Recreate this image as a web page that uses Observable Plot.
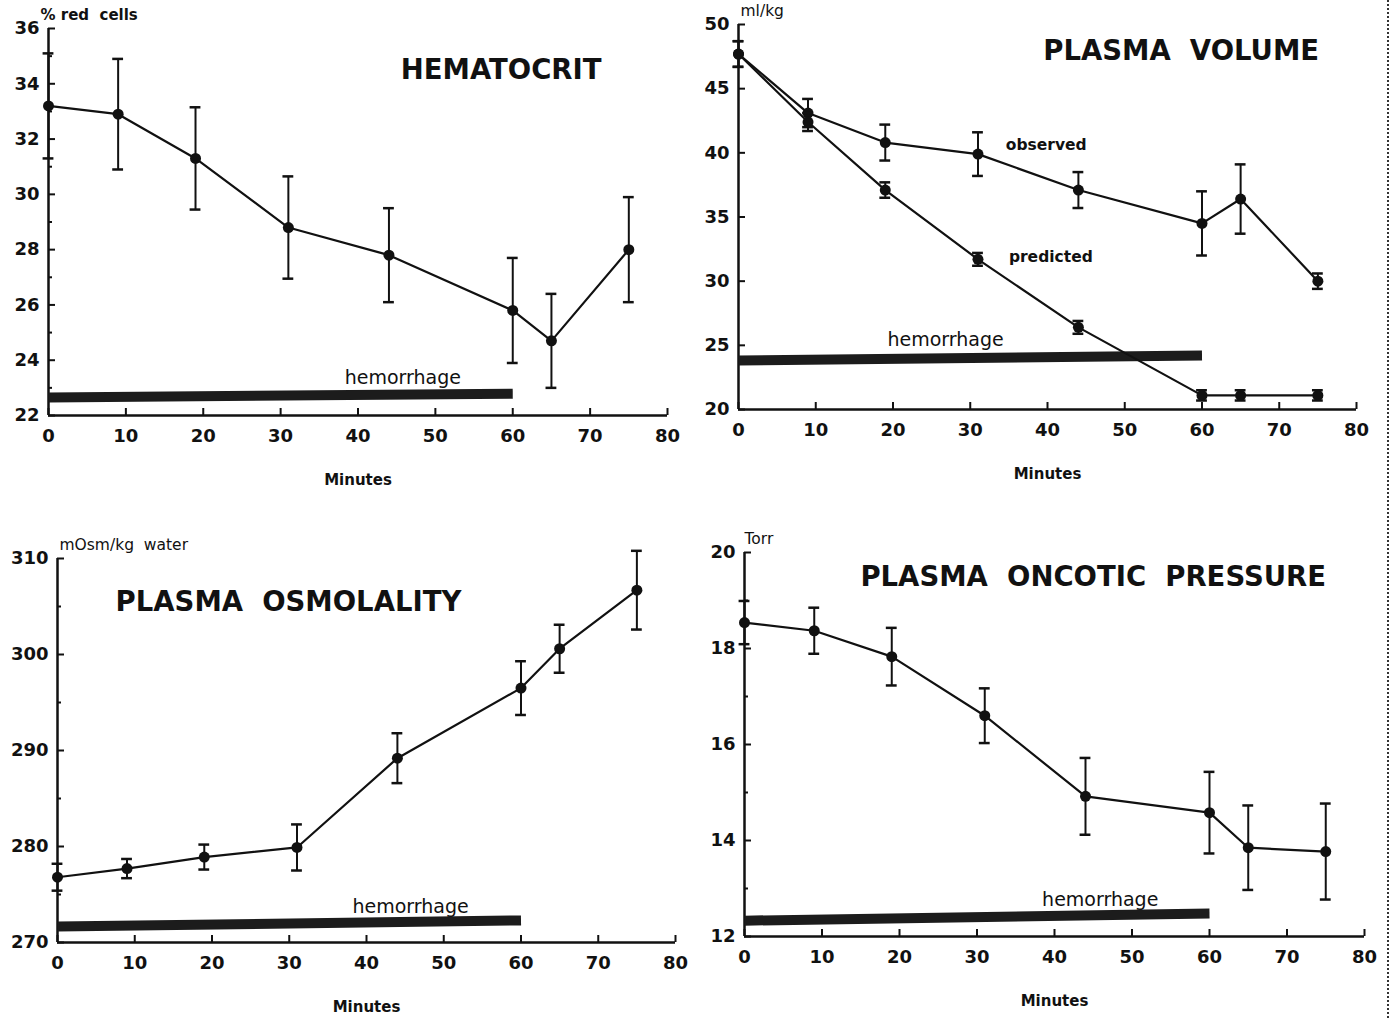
<!DOCTYPE html>
<html><head><meta charset="utf-8">
<script src="https://cdn.jsdelivr.net/npm/d3@7"></script>
<script src="https://cdn.jsdelivr.net/npm/@observablehq/plot@0.6"></script>
<style>
body{margin:0;background:#fff;}
#wrap{position:relative;width:1391px;height:1018px;overflow:hidden;background:#fff;}
.panel{position:absolute;}
.panel svg text{font-family:"DejaVu Sans",Arial,sans-serif;}
#edge{position:absolute;left:1387px;top:0;height:1018px;border-left:2px dotted #333;}
</style></head><body><div id="wrap"><div id="edge"></div></div>
<script>
// ---- data ----
const minutes = [0, 9, 19, 31, 44, 60, 65, 75];
const hematocrit    = [33.2, 32.9, 31.3, 28.8, 27.8, 25.8, 24.7, 28.0];
const hematocritErr = [1.9, 2.0, 1.85, 1.85, 1.7, 1.9, 1.7, 1.9];
const pvObserved     = [47.7, 43.1, 40.8, 39.9, 37.1, 34.5, 36.4, 30.0];
const pvObservedErr  = [1.0, 1.1, 1.4, 1.7, 1.4, 2.5, 2.7, 0.6];
const pvPredicted    = [47.7, 42.4, 37.1, 31.7, 26.4, 21.1, 21.1, 21.1];
const pvPredictedErr = [1.0, 0.7, 0.6, 0.5, 0.5, 0.4, 0.4, 0.4];
const osmolality    = [276.8, 277.7, 278.9, 279.9, 289.2, 296.5, 300.6, 306.7];
const osmolalityErr = [1.4, 1.0, 1.3, 2.4, 2.6, 2.8, 2.5, 4.1];
const oncotic    = [18.54, 18.37, 17.83, 16.6, 14.92, 14.58, 13.85, 13.77];
const oncoticErr = [0.45, 0.48, 0.6, 0.57, 0.8, 0.85, 0.88, 1.0];
const hemorrhagePeriod = [0, 60];
const xTicks = [0, 10, 20, 30, 40, 50, 60, 70, 80];
const xDomain = [0, 80];

const rows = (vals, errs) => minutes.map((t, i) => ({t, v: vals[i], e: errs[i]}));

const W = 695, H = 509, INK = "#111";
const FONT = '"DejaVu Sans", Arial, sans-serif';

function seriesMarks(data) {
  const cap = 0.7;
  return [
    Plot.line(data, {x: "t", y: "v", stroke: INK, strokeWidth: 2.2}),
    Plot.ruleX(data, {x: "t", y1: d => d.v - d.e, y2: d => d.v + d.e, stroke: INK, strokeWidth: 2}),
    Plot.ruleY(data, {y: d => d.v + d.e, x1: d => d.t - cap, x2: d => d.t + cap, stroke: INK, strokeWidth: 2.5}),
    Plot.ruleY(data, {y: d => d.v - d.e, x1: d => d.t - cap, x2: d => d.t + cap, stroke: INK, strokeWidth: 2.5}),
    Plot.dot(data, {x: "t", y: "v", r: 5.5, fill: INK, stroke: null})
  ];
}

function makePanel(cfg) {
  const [y0, y1] = cfg.yDomain;
  const innerW = W - cfg.ml - cfg.mr, innerH = H - cfg.mt - cfg.mb;
  const marks = [
    Plot.axisX({ticks: xTicks, tickSize: 0, tickPadding: 14, fontSize: 18, fontWeight: "bold", label: null, fill: INK}),
    Plot.axisY({ticks: cfg.yTicks, tickSize: 0, tickPadding: 9, fontSize: 18, fontWeight: "bold", label: null, fill: INK}),
    Plot.ruleX([0], {stroke: INK, strokeWidth: 2.5}),
    Plot.ruleY([y0], {x1: xDomain[0], x2: xDomain[1], stroke: INK, strokeWidth: 2.5}),
    Plot.tickX(xTicks, {x: d => d, insetTop: innerH - 7, stroke: INK, strokeWidth: 2}),
    Plot.tickY(cfg.yTicks, {y: d => d, insetRight: innerW - 7, stroke: INK, strokeWidth: 2}),
    Plot.tickY(cfg.yMinor, {y: d => d, insetRight: innerW - 4, stroke: INK, strokeWidth: 2}),
    Plot.link([hemorrhagePeriod], {x1: d => d[0], x2: d => d[1], y1: cfg.hem[0], y2: cfg.hem[1], stroke: "#1c1c1c", strokeWidth: 10, strokeLinecap: "butt"}),
    Plot.text(["hemorrhage"], {x: cfg.hemLabel[0], y: cfg.hemLabel[1], fontSize: 19, fill: INK, textAnchor: "middle"}),
    Plot.text([cfg.title], {x: cfg.titlePos[0], y: cfg.titlePos[1], fontSize: 27.5, fontWeight: "bold", fill: INK, textAnchor: "middle"}),
    Plot.text([cfg.unit], {frameAnchor: "top-left", dx: cfg.unitDx, dy: -13, lineAnchor: "middle", fontSize: cfg.unitBold ? 15 : 15.5, fontWeight: cfg.unitBold ? "bold" : "normal", fill: INK, textAnchor: "start", style: cfg.unitBold ? "letter-spacing:1.2px" : ""}),
    Plot.text(["Minutes"], {frameAnchor: "bottom", dy: 65, lineAnchor: "middle", fontSize: 15, fontWeight: "bold", fill: INK}),
    ...cfg.series.flatMap(seriesMarks),
    ...(cfg.extra || [])
  ];
  const svg = Plot.plot({
    width: W, height: H,
    marginLeft: cfg.ml, marginRight: cfg.mr, marginTop: cfg.mt, marginBottom: cfg.mb,
    x: {domain: xDomain},
    y: {domain: cfg.yDomain},
    style: {background: "transparent", overflow: "visible", fontFamily: FONT},
    marks
  });
  const div = document.createElement("div");
  div.className = "panel";
  div.style.left = cfg.left + "px";
  div.style.top = cfg.top + "px";
  div.appendChild(svg);
  document.getElementById("wrap").appendChild(div);
}

makePanel({
  left: 0, top: 0, ml: 48, mr: 28, mt: 28, mb: 94,
  yDomain: [22, 36], yTicks: [22, 24, 26, 28, 30, 32, 34, 36], yMinor: [23, 25, 27, 29, 31, 33, 35],
  series: [rows(hematocrit, hematocritErr)],
  title: "HEMATOCRIT", titlePos: [58.5, 34.48],
  unit: "% red  cells", unitDx: -8, unitBold: true,
  hem: [22.65, 22.79], hemLabel: [45.8, 23.37]
});

makePanel({
  left: 695, top: 0, ml: 43, mr: 34, mt: 24, mb: 100,
  yDomain: [20, 50], yTicks: [20, 25, 30, 35, 40, 45, 50], yMinor: [],
  series: [rows(pvObserved, pvObservedErr), rows(pvPredicted, pvPredictedErr)],
  title: "PLASMA  VOLUME", titlePos: [57.3, 47.9],
  unit: "ml/kg", unitDx: 2,
  hem: [23.81, 24.2], hemLabel: [26.8, 25.4],
  extra: [
    Plot.text(["observed"], {x: 34.6, y: 40.57, fontSize: 15.5, fontWeight: "bold", fill: INK, textAnchor: "start"}),
    Plot.text(["predicted"], {x: 35, y: 31.9, fontSize: 15.5, fontWeight: "bold", fill: INK, textAnchor: "start"})
  ]
});

makePanel({
  left: 0, top: 509, ml: 57, mr: 20, mt: 49, mb: 76,
  yDomain: [270, 310], yTicks: [270, 280, 290, 300, 310], yMinor: [275, 285, 295, 305],
  series: [rows(osmolality, osmolalityErr)],
  title: "PLASMA  OSMOLALITY", titlePos: [29.9, 305.4],
  unit: "mOsm/kg  water", unitDx: 2,
  hem: [271.67, 272.3], hemLabel: [45.7, 273.75]
});

makePanel({
  left: 695, top: 509, ml: 49, mr: 26, mt: 43, mb: 82,
  yDomain: [12, 20], yTicks: [12, 14, 16, 18, 20], yMinor: [13, 15, 17, 19],
  series: [rows(oncotic, oncoticErr)],
  title: "PLASMA  ONCOTIC  PRESSURE", titlePos: [45.0, 19.48],
  unit: "Torr", unitDx: 0,
  hem: [12.33, 12.48], hemLabel: [45.9, 12.77]
});
</script></body></html>
